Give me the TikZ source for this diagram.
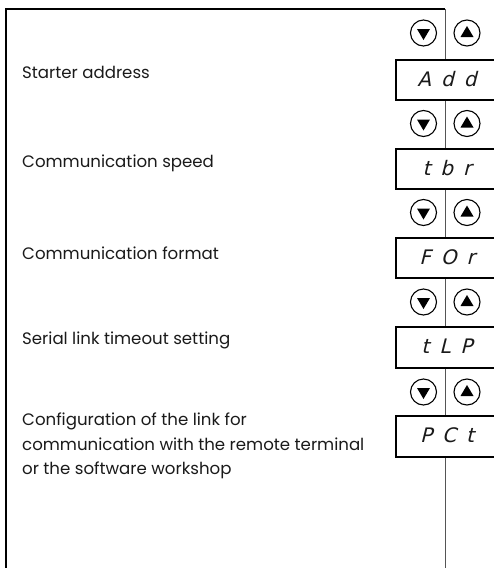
\documentclass[tikz,border=0pt]{standalone}
\usepackage{fontspec}
\setmainfont{Poppins}
\newfontfamily\segfont{DejaVu Sans}[FakeSlant=0.25]
\definecolor{txt}{HTML}{1A1A1A}
\definecolor{linkgray}{HTML}{555555}
\tikzset{
  frame/.style={draw=black, line width=1.2pt},
  link/.style={draw=linkgray, line width=1pt},
  disp/.style={draw=black, line width=2pt, fill=white, minimum width=125pt, minimum height=40pt, inner sep=0pt, anchor=north west, text=txt},
  segtxt/.style={inner sep=0pt, text=txt, font=\segfont\fontsize{20pt}{20pt}\selectfont},
  btnbase/.style={circle, draw=black, line width=1.1pt, fill=white, minimum size=26pt, inner sep=0pt},
  downbtn/.style={btnbase, path picture={\fill[black] ([shift={(-6.5pt,4pt)}]path picture bounding box.center) -- ++(13pt,0pt) -- ++(-6.5pt,-11pt) -- cycle;}},
  upbtn/.style={btnbase, path picture={\fill[black] ([shift={(-6.5pt,-4pt)}]path picture bounding box.center) -- ++(13pt,0pt) -- ++(-6.5pt,11pt) -- cycle;}},
  lbl/.style={anchor=west, inner sep=0pt, text=txt, font=\fontsize{16.6pt}{24.5pt}\selectfont, align=left}
}
\begin{document}
\begin{tikzpicture}[x=1pt,y=-1pt]
\useasboundingbox (0,0) rectangle (494,568);
\clip (0,0) rectangle (494,568);
\coordinate (top) at (445,9);
\coordinate (bot) at (445,570);
\coordinate (bl) at (6,570);
% displays
\node[disp] (b1) at (395,59) {};
\node[disp] (b2) at (395,148) {};
\node[disp] (b3) at (395,237) {};
\node[disp, minimum height=41pt] (b4) at (395,325.5) {};
\node[disp, minimum height=41pt] (b5) at (395,415) {};
\node[segtxt] (t1) at (447,79) {A\,\,\,d\,\,\,d};
\node[segtxt] (t2) at (447,168) {t\,\,\,b\,\,\,r};
\node[segtxt] (t3) at (447,257) {F\,\,\,O\,\,\,r};
\node[segtxt] (t4) at (447,346) {t\,\,\,L\,\,\,P};
\node[segtxt] (t5) at (447,435.5) {P\,\,\,C\,\,\,t};
% links
\draw[frame] (bl) -- (6,9) -- (top);
\draw[link] (top) -- (top |- b1.north);
\draw[link] (top |- b1.south) -- (top |- b2.north);
\draw[link] (top |- b2.south) -- (top |- b3.north);
\draw[link] (top |- b3.south) -- (top |- b4.north);
\draw[link] (top |- b4.south) -- (top |- b5.north);
\draw[link] (top |- b5.south) -- (bot);
% buttons
\node[downbtn] (d1) at (423.5,33) {};
\node[upbtn] (u1) at (467,33) {};
\node[downbtn] (d2) at (423.5,123.5) {};
\node[upbtn] (u2) at (467,123.5) {};
\node[downbtn] (d3) at (423.5,212.5) {};
\node[upbtn] (u3) at (467,212.5) {};
\node[downbtn] (d4) at (423.5,302) {};
\node[upbtn] (u4) at (467,302) {};
\node[downbtn] (d5) at (423.5,392) {};
\node[upbtn] (u5) at (467,392) {};
% labels
\node[lbl] (l1) at (22,72) {Starter address};
\node[lbl] (l2) at (22,163) {Communication speed};
\node[lbl] (l3) at (22,253) {Communication format};
\node[lbl] (l4) at (22,340) {Serial link timeout setting};
\node[lbl] (l5) at (22,446) {Configuration of the link for\\communication with the remote terminal\\or the software workshop};
\end{tikzpicture}
\end{document}
